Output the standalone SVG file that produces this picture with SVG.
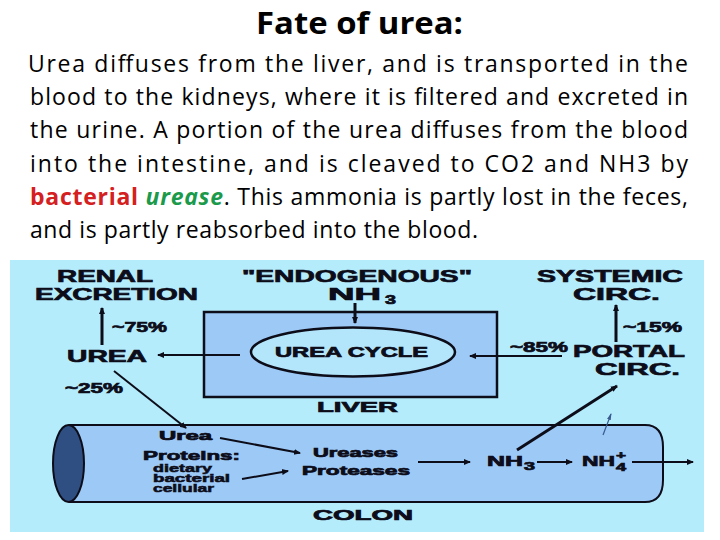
<svg xmlns="http://www.w3.org/2000/svg" width="720" height="540" viewBox="0 0 720 540">
<style>
.title{font-family:"Open Sans","Liberation Sans",sans-serif;font-weight:700;font-size:31px;fill:#000}
.body{font-family:"Open Sans","Liberation Sans",sans-serif;font-size:23px;fill:#000}
.d{font-family:"Liberation Sans",Arial,sans-serif;font-weight:900;fill:#0d0d1a;stroke:#0d0d1a;stroke-width:0.7}
.big{font-size:17px}
.pct{font-size:14px}
.sm{font-size:10px;stroke-width:0.5}
.ln{stroke:#0d0d1a;stroke-width:3;fill:none}
.lt{stroke:#0d0d1a;stroke-width:2;fill:none}
</style>
<defs>
<marker id="ah" markerWidth="8" markerHeight="8" refX="6" refY="4" orient="auto" markerUnits="userSpaceOnUse">
<path d="M0,1 L7,4 L0,7 z" fill="#0d0d1a"/>
</marker>
<marker id="ahs" markerWidth="8" markerHeight="8" refX="6" refY="4" orient="auto" markerUnits="userSpaceOnUse">
<path d="M0,2 L7,4 L0,6 z" fill="#3a5a90"/>
</marker>
</defs>
<rect width="720" height="540" fill="#fff"/>
<g id="title"><text class="title" x="256" y="34" textLength="207" lengthAdjust="spacingAndGlyphs">Fate of urea:</text></g>
<g id="paragraph">
<text class="body" x="28" y="72" textLength="660" lengthAdjust="spacing">Urea diffuses from the liver, and is transported in the</text>
<text class="body" x="30" y="105" textLength="658" lengthAdjust="spacing">blood to the kidneys, where it is filtered and excreted in</text>
<text class="body" x="30" y="138" textLength="658" lengthAdjust="spacing">the urine. A portion of the urea diffuses from the blood</text>
<text class="body" x="30" y="172" textLength="658" lengthAdjust="spacing">into the intestine, and is cleaved to CO2 and NH3 by</text>
<text class="body" x="30" y="205" textLength="658" lengthAdjust="spacing"><tspan fill="#d42020" font-weight="700">bacterial</tspan> <tspan fill="#1a9a4a" font-weight="700" font-style="italic">urease</tspan>. This ammonia is partly lost in the feces,</text>
<text class="body" x="30" y="238" textLength="448" lengthAdjust="spacing">and is partly reabsorbed into the blood.</text>
</g>
<rect id="panel" x="10" y="260" width="694" height="272" fill="#b4ecfc"/>
<g id="liver">
<rect x="204" y="312" width="293" height="85" fill="#9dc9f6" stroke="#0d0d1a" stroke-width="2.5"/>
<text class="d" font-size="15" x="317" y="412" textLength="81" lengthAdjust="spacingAndGlyphs">LIVER</text>
</g>
<g id="urea-cycle">
<ellipse cx="353" cy="352" rx="102" ry="24.5" fill="#b4e6fb" stroke="#0d0d1a" stroke-width="2.5"/>
<text class="d" font-size="14" x="275" y="357" textLength="153" lengthAdjust="spacingAndGlyphs">UREA CYCLE</text>
</g>
<g id="colon">
<path d="M69,425 H645 Q663,425 663,447 V480 Q663,502 645,502 H69" fill="#9dc9f6" stroke="#0d0d1a" stroke-width="2"/>
<ellipse cx="68.5" cy="463.5" rx="15.5" ry="38.5" fill="#2f4f82" stroke="#0d0d1a" stroke-width="2"/>
<text class="d" font-size="14" x="313" y="520" textLength="100" lengthAdjust="spacingAndGlyphs">COLON</text>
</g>
<g id="renal">
<text class="d big" x="57" y="282" textLength="96" lengthAdjust="spacingAndGlyphs">RENAL</text>
<text class="d big" x="35" y="300" textLength="163" lengthAdjust="spacingAndGlyphs">EXCRETION</text>
</g>
<g id="endogenous">
<text class="d big" x="242" y="282" textLength="230" lengthAdjust="spacingAndGlyphs">"ENDOGENOUS"</text>
<text class="d big" x="328" y="300" textLength="53" lengthAdjust="spacingAndGlyphs">NH</text>
<text class="d" font-size="12" x="385" y="304" textLength="11" lengthAdjust="spacingAndGlyphs">3</text>
</g>
<g id="systemic">
<text class="d big" x="537" y="282" textLength="146" lengthAdjust="spacingAndGlyphs">SYSTEMIC</text>
<text class="d big" x="573" y="300" textLength="87" lengthAdjust="spacingAndGlyphs">CIRC.</text>
</g>
<g id="urea"><text class="d big" x="67" y="362" textLength="80" lengthAdjust="spacingAndGlyphs">UREA</text></g>
<g id="portal">
<text class="d big" x="573" y="357" textLength="112" lengthAdjust="spacingAndGlyphs">PORTAL</text>
<text class="d big" x="595" y="375" textLength="85" lengthAdjust="spacingAndGlyphs">CIRC.</text>
</g>
<g id="colon-contents">
<text class="d" font-size="12" x="159" y="440" textLength="53" lengthAdjust="spacingAndGlyphs">Urea</text>
<text class="d" font-size="13" x="143" y="460" textLength="97" lengthAdjust="spacingAndGlyphs">Proteins:</text>
<text class="d sm" x="153" y="472" textLength="59" lengthAdjust="spacingAndGlyphs">dietary</text>
<text class="d sm" x="153" y="482" textLength="77" lengthAdjust="spacingAndGlyphs">bacterial</text>
<text class="d sm" x="153" y="492" textLength="61" lengthAdjust="spacingAndGlyphs">cellular</text>
<text class="d" font-size="12" x="313" y="457" textLength="85" lengthAdjust="spacingAndGlyphs">Ureases</text>
<text class="d" font-size="12" x="302" y="475" textLength="108" lengthAdjust="spacingAndGlyphs">Proteases</text>
<text class="d" font-size="14" x="487" y="466" textLength="36" lengthAdjust="spacingAndGlyphs">NH</text>
<text class="d" font-size="11" x="524" y="470" textLength="11" lengthAdjust="spacingAndGlyphs">3</text>
<text class="d" font-size="14" x="582" y="466" textLength="33" lengthAdjust="spacingAndGlyphs">NH</text>
<text class="d" font-size="10" x="616" y="471" textLength="10" lengthAdjust="spacingAndGlyphs">4</text>
<text class="d" font-size="11" x="616" y="459" textLength="10" lengthAdjust="spacingAndGlyphs">+</text>
</g>
<g id="labels">
<text class="d pct" x="112" y="332" textLength="55" lengthAdjust="spacingAndGlyphs">~75%</text>
<text class="d pct" x="65" y="393" textLength="58" lengthAdjust="spacingAndGlyphs">~25%</text>
<text class="d pct" x="510" y="352" textLength="58" lengthAdjust="spacingAndGlyphs">~85%</text>
<text class="d pct" x="623" y="332" textLength="59" lengthAdjust="spacingAndGlyphs">~15%</text>
</g>
<g id="connectors">
<line class="ln" x1="102" y1="345" x2="102" y2="308" marker-end="url(#ah)"/>
<line class="lt" x1="240" y1="355" x2="158" y2="355" marker-end="url(#ah)"/>
<line class="lt" x1="114" y1="371" x2="186" y2="428" marker-end="url(#ah)"/>
<line class="ln" x1="355" y1="303" x2="355" y2="323" marker-end="url(#ah)"/>
<line class="lt" x1="562" y1="356" x2="470" y2="356" marker-end="url(#ah)"/>
<line class="ln" x1="616" y1="342" x2="616" y2="305" marker-end="url(#ah)"/>
<line class="ln" x1="517" y1="450" x2="617" y2="386" marker-end="url(#ah)"/>
<line x1="603" y1="435" x2="611" y2="414" stroke="#3a5a90" stroke-width="1.2" marker-end="url(#ahs)"/>
<line class="lt" x1="220" y1="438" x2="300" y2="453" marker-end="url(#ah)"/>
<line class="lt" x1="242" y1="479" x2="288" y2="471" marker-end="url(#ah)"/>
<line class="lt" x1="418" y1="462" x2="470" y2="462" marker-end="url(#ah)"/>
<line class="lt" x1="537" y1="462" x2="572" y2="462" marker-end="url(#ah)"/>
<line class="lt" x1="632" y1="462" x2="693" y2="462" marker-end="url(#ah)"/>
</g>
</svg>
